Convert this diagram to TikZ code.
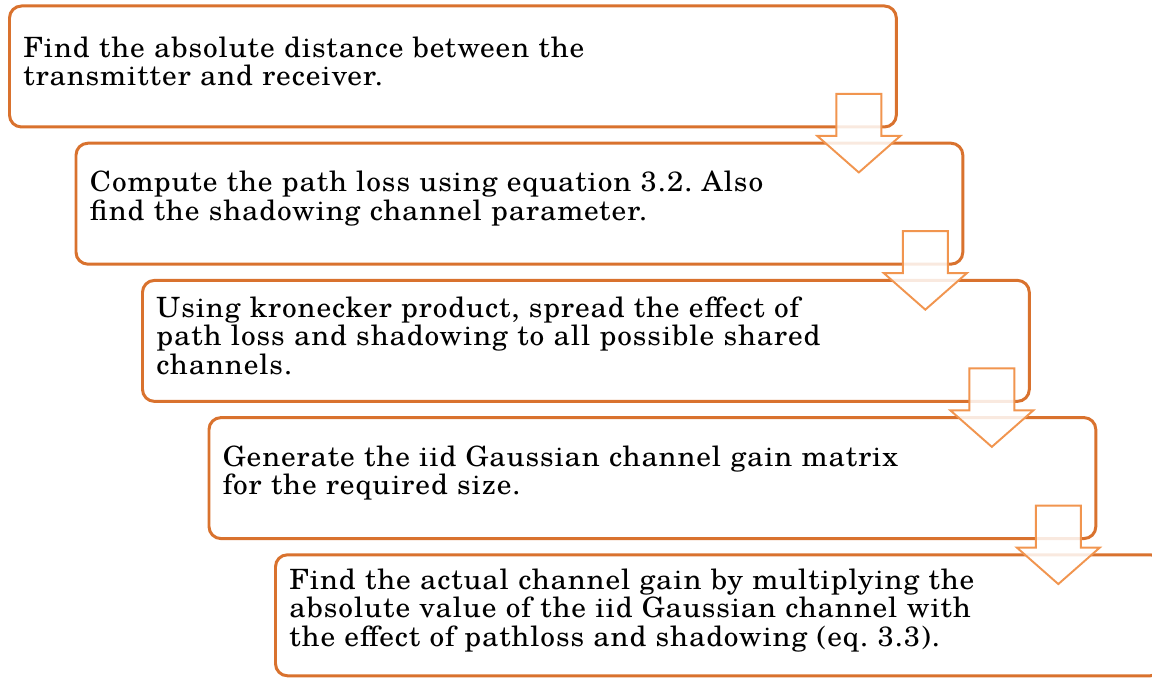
\documentclass[tikz,border=0pt]{standalone}
\usepackage{fontspec}
\setmainfont{TeX Gyre Schola}[FakeStretch=1.05,LetterSpace=3.3]
\definecolor{stepline}{HTML}{D9722E}
\definecolor{arrowline}{HTML}{F1954F}
\frenchspacing

\begin{document}
\begin{tikzpicture}[x=.02cm,y=.02cm,
 font=\fontsize{15.9}{16.2}\selectfont,
 stage/.style={draw=stepline,line width=1.7pt,rounded corners=6.8pt,fill=white,
   anchor=north west,minimum width=17.74cm,minimum height=2.42cm,
   text width=17.18cm,text height=6pt,inner xsep=.28cm,align=left},
 downarrow/.pic={
   \path[draw=arrowline,line width=1.1pt,fill=white,fill opacity=.85]
     (-22.5,34.5) -- (22.5,34.5) -- (22.5,-7.5) -- (41.5,-7.5)
     -- (0,-44) -- (-41.5,-7.5) -- (-22.5,-7.5) -- cycle;}]
\clip (0,0) rectangle (1152,677);
% Each stage sits one step right and one step down from the last.
\node[stage] (s1) at (8,672.5)
  {Find the absolute distance between the\\ transmitter and receiver.};
\node[stage] (s2) at (74.5,535.3)
  {Compute the path loss using equation 3.2. Also\\ find the shadowing channel parameter.};
\node[stage] (s3) at (141,398.1)
  {Using kronecker product, spread the effect of\\ path loss and shadowing to all possible shared\\ channels.};
\node[stage] (s4) at (207.5,260.9)
  {Generate the iid Gaussian channel gain matrix\\ for the required size.};
\node[stage] (s5) at (274,123.7)
  {Find the actual channel gain by multiplying the\\ absolute value of the iid Gaussian channel with\\ the effect of pathloss and shadowing (eq. 3.3).};
% Block arrows hang off the lower right of each stage.
\pic at ([shift={(-39,0)}]s1.south east) {downarrow};
\pic at ([shift={(-39,0)}]s2.south east) {downarrow};
\pic at ([shift={(-39,0)}]s3.south east) {downarrow};
\pic at ([shift={(-39,0)}]s4.south east) {downarrow};
\end{tikzpicture}
\end{document}
